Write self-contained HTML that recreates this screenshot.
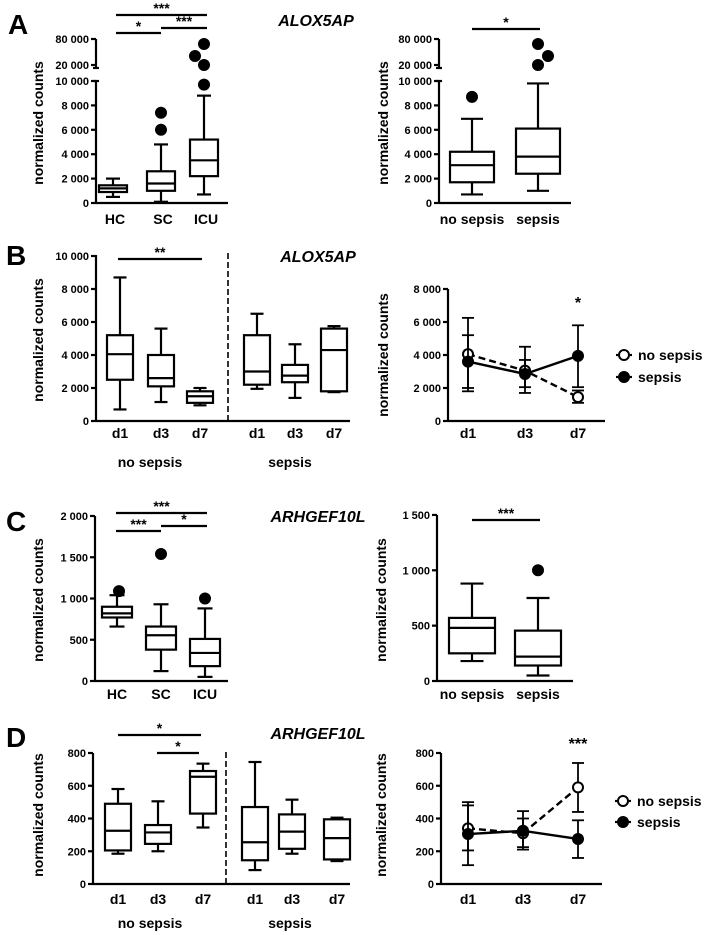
<!DOCTYPE html>
<html><head><meta charset="utf-8"><style>
html,body{margin:0;padding:0;background:#fff}
svg{display:block}
text{font-family:"Liberation Sans",Arial,sans-serif;font-weight:bold;fill:#000}
</style></head><body>
<svg id="fig" width="714" height="935" viewBox="0 0 714 935" xmlns="http://www.w3.org/2000/svg"></svg>
<script>
// ---------- DATA ----------
// box stats: [min, q1, median, q3, max]
const aGroups = ["HC","SC","ICU"];
const aBoxes = [[500,900,1200,1450,2000],[100,1000,1600,2600,4800],[700,2200,3500,5200,8800]];
const aOutliers = [[],[6000,7400],[9700,20000,40800,68500]];
const aOutlierDx = [[],[0,0],[0,0,-9,0]];
const aSepGroups = ["no sepsis","sepsis"];
const aSepBoxes = [[700,1700,3100,4200,6900],[1000,2400,3800,6100,9800]];
const aSepOutliers = [[8700],[20000,40800,68500]];
const aSepOutlierDx = [[0],[0,10,0]];
const aTicksLow = [0,2000,4000,6000,8000,10000];
const aTicksHigh = [20000,80000];
const aTickLabelsLow = ["0","2 000","4 000","6 000","8 000","10 000"];
const aTickLabelsHigh = ["20 000","80 000"];

const days = ["d1","d3","d7"];
const bNoSepBoxes = [[700,2500,4050,5200,8700],[1150,2100,2600,4000,5600],[950,1100,1500,1800,2000]];
const bSepBoxes = [[1950,2200,3000,5200,6500],[1400,2350,2750,3400,4650],[1750,1800,4300,5600,5750]];
const bTicks = [0,2000,4000,6000,8000,10000];
const bTickLabels = ["0","2 000","4 000","6 000","8 000","10 000"];
const bLineTicks = [0,2000,4000,6000,8000];
const bLineTickLabels = ["0","2 000","4 000","6 000","8 000"];
const bNoSepMean = [4050,3050,1450];
const bNoSepLo = [1800,1700,1100];
const bNoSepHi = [6250,4500,1850];
const bSepMean = [3600,2850,3950];
const bSepLo = [2000,2050,2050];
const bSepHi = [5200,3700,5800];

const cBoxes = [[660,770,820,900,1040],[120,380,555,660,930],[50,180,340,510,880]];
const cOutliers = [[1090],[1540],[1000]];
const cTicks = [0,500,1000,1500,2000];
const cTickLabels = ["0","500","1 000","1 500","2 000"];
const cSepBoxes = [[180,250,480,570,880],[50,140,220,455,750]];
const cSepOutliers = [[],[1000]];
const cSepTicks = [0,500,1000,1500];
const cSepTickLabels = ["0","500","1 000","1 500"];

const dNoSepBoxes = [[185,205,325,490,580],[200,245,315,360,505],[345,430,655,690,735]];
const dSepBoxes = [[85,145,255,470,745],[185,215,320,425,515],[140,150,280,395,405]];
const dTicks = [0,200,400,600,800];
const dTickLabels = ["0","200","400","600","800"];
const dNoSepMean = [340,310,590];
const dNoSepLo = [205,210,440];
const dNoSepHi = [480,445,739];
const dSepMean = [305,325,275];
const dSepLo = [115,225,159];
const dSepHi = [500,400,389];

// ---------- HELPERS ----------
const svg = document.getElementById('fig');
const NS = "http://www.w3.org/2000/svg";
function el(tag, attrs, parent){
  const e = document.createElementNS(NS, tag);
  for (const k in attrs) e.setAttribute(k, attrs[k]);
  (parent||svg).appendChild(e);
  return e;
}
function line(x1,y1,x2,y2,p,extra){
  const a={x1,y1,x2,y2,stroke:"#000","stroke-width":2.2};
  if(extra) for(const k in extra) a[k]=extra[k];
  return el('line',a,p);
}
function txt(x,y,s,size,anchor,p,extra){
  const t=el('text',{x,y,"font-size":size,"text-anchor":anchor||"middle"},p);
  if(extra) for(const k in extra) t.setAttribute(k,extra[k]);
  t.textContent=s; return t;
}
function group(name){
  const g=el('g',{});
  
  
  return g;
}
function yAxis(g, x, yTop, yBot, ticks, labels, ys){
  line(x,yTop,x,yBot,g);
  ticks.forEach((v,i)=>{
    const y=ys(v);
    line(x-5,y,x,y,g);
    const t=txt(x-7,y+4,labels[i],11,"end",g);
    
    
  });
}
function box(g, cx, w, s, ys){
  const [mn,q1,md,q3,mx]=s;
  const b=el('rect',{x:cx-w/2,y:ys(q3),width:w,height:ys(q1)-ys(q3),fill:"none",stroke:"#000","stroke-width":2.2},g);
  
  
  line(cx-w/2,ys(md),cx+w/2,ys(md),g);
  line(cx,ys(q3),cx,ys(mx),g);
  line(cx,ys(q1),cx,ys(mn),g);
  line(cx-w/4,ys(mx),cx+w/4,ys(mx),g);
  line(cx-w/4,ys(mn),cx+w/4,ys(mn),g);
}
function dot(g,cx,cy,filled){
  const c=el('circle',{cx,cy,r:5,fill:filled?"#000":"#fff",stroke:"#000","stroke-width":2},g);
  
  
  return c;
}
function sig(g,x1,x2,y,stars){
  line(x1,y,x2,y,g);
  txt((x1+x2)/2,y-2,stars,14,"middle",g);
}
function ylabel(g,x,y){
  const t=txt(x,y,"normalized counts",14,"middle",g,{transform:`rotate(-90 ${x} ${y})`});
  
  
}
function letter(s,x,y){
  const t=txt(x,y,s,28,"start");
  
  
}
function title(s,x,y){
  const t=txt(x,y,s,16,"middle",svg,{"font-style":"italic"});
  
  
}
function linePlot(g, xs, ys, mean, lo, hi, filled, dashed){
  const pts=mean.map((v,i)=>xs[i]+","+ys(v)).join(" ");
  const pl=el('polyline',{points:pts,fill:"none",stroke:"#000","stroke-width":2.4,"stroke-dasharray":dashed?"7,4":"none"},g);
  
  
  mean.forEach((v,i)=>{
    const x=xs[i];
    line(x,ys(lo[i]),x,ys(hi[i]),g,{"stroke-width":1.8});
    line(x-6,ys(lo[i]),x+6,ys(lo[i]),g,{"stroke-width":1.8});
    line(x-6,ys(hi[i]),x+6,ys(hi[i]),g,{"stroke-width":1.8});
  });
  mean.forEach((v,i)=>dot(g,xs[i],ys(v),filled));
}
function legend(g,x,y1,y2){
  line(x-8,y1,x+8,y1,g); dot(g,x,y1,false); txt(x+14,y1+5,"no sepsis",14,"start",g);
  line(x-8,y2,x+8,y2,g); dot(g,x,y2,true); txt(x+14,y2+5,"sepsis",14,"start",g);
}

// ---------- PANEL A ----------
const yA = v => v<=10000 ? 203 - v*0.0122 : 65 - (v-20000)*26/60000;
letter("A",8,34); title("ALOX5AP",316,26);
function brokenAxis(g,x){
  line(x,39,x,68,g); line(x,81,x,203,g);
  line(x-3,68,x+3,68,g); line(x-3,81,x+3,81,g);
  aTicksLow.forEach((v,i)=>{line(x-5,yA(v),x,yA(v),g); txt(x-7,yA(v)+4,aTickLabelsLow[i],11,"end",g);});
  aTicksHigh.forEach((v,i)=>{line(x-5,yA(v),x,yA(v),g); txt(x-7,yA(v)+4,aTickLabelsHigh[i],11,"end",g);});
}
{
  const g=group('panel-a-left');
  brokenAxis(g,96); line(96,203,228,203,g);
  const xs=[113,161,204];
  aBoxes.forEach((s,i)=>{box(g,xs[i],28,s,yA); aOutliers[i].forEach((o,j)=>dot(g,xs[i]+aOutlierDx[i][j],yA(o),true));
    txt(xs[i]+2,224,aGroups[i],14,"middle",g);});
  sig(g,116,207,15,"***"); sig(g,116,161,33,"*"); sig(g,161,207,28,"***");
  ylabel(g,43,123);
}
{
  const g=group('panel-a-right');
  brokenAxis(g,439); line(439,203,571,203,g);
  const xs=[472,538];
  aSepBoxes.forEach((s,i)=>{box(g,xs[i],44,s,yA); aSepOutliers[i].forEach((o,j)=>dot(g,xs[i]+aSepOutlierDx[i][j],yA(o),true));
    txt(xs[i],224,aSepGroups[i],14,"middle",g);});
  sig(g,472,540,29,"*");
  ylabel(g,388,123);
}

// ---------- PANEL B ----------
const yB = v => 421 - v*0.0165;
letter("B",6,265); title("ALOX5AP",318,262);
{
  const g=group('panel-b-boxes');
  yAxis(g,96,255,421,bTicks,bTickLabels,yB); line(96,421,350,421,g);
  line(228,253,228,421,g,{"stroke-dasharray":"6,3","stroke-width":1.6});
  const xn=[120,161,200], xsps=[257,295,334];
  bNoSepBoxes.forEach((s,i)=>{box(g,xn[i],26,s,yB); txt(xn[i],438,days[i],14,"middle",g);});
  bSepBoxes.forEach((s,i)=>{box(g,xsps[i],26,s,yB); txt(xsps[i],438,days[i],14,"middle",g);});
  txt(150,467,"no sepsis",14,"middle",g); txt(290,467,"sepsis",14,"middle",g);
  sig(g,118,202,259,"**");
  ylabel(g,43,340);
}
{
  const g=group('panel-b-lines');
  yAxis(g,448,289,421,bLineTicks,bLineTickLabels,yB); line(448,421,605,421,g);
  const xs=[468,525,578];
  days.forEach((d,i)=>txt(xs[i],438,d,14,"middle",g));
  linePlot(g,xs,yB,bNoSepMean,bNoSepLo,bNoSepHi,false,true);
  linePlot(g,xs,yB,bSepMean,bSepLo,bSepHi,true,false);
  txt(578,308,"*",16,"middle",g);
  legend(g,624,355,377);
  ylabel(g,388,355);
}

// ---------- PANEL C ----------
const yC = v => 681 - v*0.0825;
const yC2 = v => 681 - v*0.1107;
letter("C",6,531); title("ARHGEF10L",318,522);
{
  const g=group('panel-c-left');
  yAxis(g,95,516,681,cTicks,cTickLabels,yC); line(95,681,228,681,g);
  const xs=[117,161,205];
  cBoxes.forEach((s,i)=>{box(g,xs[i],30,s,yC); cOutliers[i].forEach(o=>dot(g,xs[i]+(i===0?2:0),yC(o),true));
    txt(xs[i],699,aGroups[i],14,"middle",g);});
  sig(g,116,207,513,"***"); sig(g,116,161,531,"***"); sig(g,161,207,526,"*");
  ylabel(g,43,600);
}
{
  const g=group('panel-c-right');
  yAxis(g,437,515,681,cSepTicks,cSepTickLabels,yC2); line(437,681,573,681,g);
  const xs=[472,538];
  cSepBoxes.forEach((s,i)=>{box(g,xs[i],46,s,yC2); cSepOutliers[i].forEach(o=>dot(g,xs[i],yC2(o),true));
    txt(xs[i],699,aSepGroups[i],14,"middle",g);});
  sig(g,472,540,520,"***");
  ylabel(g,386,600);
}

// ---------- PANEL D ----------
const yD = v => 884 - v*0.16375;
letter("D",6,747); title("ARHGEF10L",318,739);
{
  const g=group('panel-d-boxes');
  yAxis(g,93,753,884,dTicks,dTickLabels,yD); line(93,884,350,884,g);
  line(226,752,226,884,g,{"stroke-dasharray":"6,3","stroke-width":1.6});
  const xn=[118,158,203], xsps=[255,292,337];
  dNoSepBoxes.forEach((s,i)=>{box(g,xn[i],26,s,yD); txt(xn[i],904,days[i],14,"middle",g);});
  dSepBoxes.forEach((s,i)=>{box(g,xsps[i],26,s,yD); txt(xsps[i],904,days[i],14,"middle",g);});
  txt(150,928,"no sepsis",14,"middle",g); txt(290,928,"sepsis",14,"middle",g);
  sig(g,118,201,735,"*"); sig(g,157,199,753,"*");
  ylabel(g,43,815);
}
{
  const g=group('panel-d-lines');
  yAxis(g,441,753,884,dTicks,dTickLabels,yD); line(441,884,602,884,g);
  const xs=[468,523,578];
  days.forEach((d,i)=>txt(xs[i],904,d,14,"middle",g));
  linePlot(g,xs,yD,dNoSepMean,dNoSepLo,dNoSepHi,false,true);
  linePlot(g,xs,yD,dSepMean,dSepLo,dSepHi,true,false);
  txt(578,749,"***",16,"middle",g);
  legend(g,623,801,822);
  ylabel(g,386,815);
}
</script>
</body></html>
